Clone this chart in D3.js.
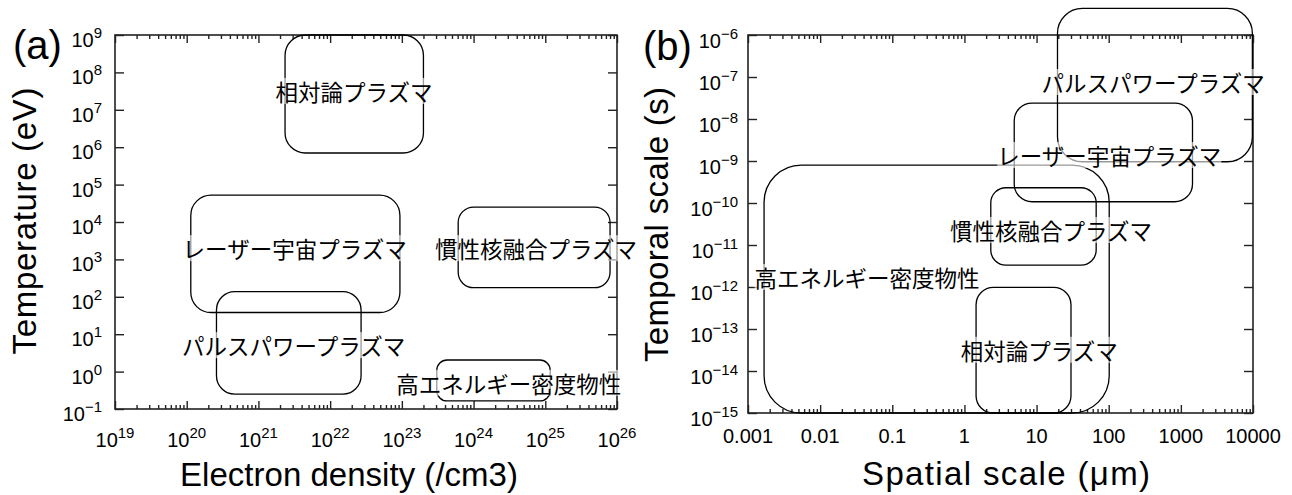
<!DOCTYPE html>
<html>
<head>
<meta charset="utf-8">
<script src="https://cdn.jsdelivr.net/npm/d3@7"></script>
<style>
  body { margin: 0; background: #fff; }
  svg { display: block; }
</style>
</head>
<body>
<svg id="chart" width="1292" height="495"></svg>
<script>
// ---- data (a): electron density vs temperature
const densityExp = [19, 20, 21, 22, 23, 24, 25, 26]
const temperatureExp = [-1, 0, 1, 2, 3, 4, 5, 6, 7, 8, 9]

const namesA = ['相対論プラズマ', 'レーザー宇宙プラズマ', 'パルスパワープラズマ', '慣性核融合プラズマ', '高エネルギー密度物性']
const densityLow = [2.35e21, 1.14e20, 2.6e20, 6.1e23, 3.07e23]
const densityHigh = [2e23, 9.4e22, 2.7e22, 8e25, 1.17e25]
const tempLow = [7e5, 38, 0.25, 175, 0.164]
const tempHigh = [1e9, 5.2e4, 137, 2.5e4, 2.04]
const densityLabelAt = [2.15e22, 3.2e21, 3.1e21, 7.4e24, 3.1e24]
const tempLabelAt = [3.2e7, 2.0e3, 5.1, 2.0e3, 0.5]

// ---- data (b): spatial vs temporal scale
const spatialTicks = [0.001, 0.01, 0.1, 1, 10, 100, 1000, 10000]
const spatialLabels = ['0.001', '0.01', '0.1', '1', '10', '100', '1000', '10000']
const temporalExp = [-15, -14, -13, -12, -11, -10, -9, -8, -7, -6]

const namesB = ['パルスパワープラズマ', 'レーザー宇宙プラズマ', '高エネルギー密度物性', '慣性核融合プラズマ', '相対論プラズマ']
const spatialLow = [19.5, 4.9, 0.00167, 2.32, 1.45]
const spatialHigh = [9800, 1450, 101.6, 67, 30]
const timeLow = [9.6e-10, 1.07e-10, 1e-15, 3.3e-12, 1e-15]
const timeHigh = [4.3e-6, 2.4e-8, 8.0e-10, 2.31e-10, 9.8e-13]
const spatialLabelAt = [414, 102, 0.0447, 15.9, 10.9]
const timeLabelAt = [7.6e-8, 1.39e-9, 1.73e-12, 2.28e-11, 3.2e-14]

const LATIN = "'Liberation Sans', Arial, sans-serif"
const CJK = "'Noto Sans CJK JP', sans-serif"
const INK = '#222'

const svg = d3.select('#chart')

function minorTicks(domain) {
    const out = []
    const lo = Math.round(Math.log10(domain[0]))
    const hi = Math.round(Math.log10(domain[1]))
    for (let e = lo; e < hi; e++) {
        for (let m = 2; m <= 9; m++) out.push(m * Math.pow(10, e))
    }
    return out
}

function powLabel(sel, exp) {
    sel.append('tspan').text('10')
    sel.append('tspan')
        .attr('dy', -9)
        .attr('font-size', 15)
        .text(exp < 0 ? '\u2212' + (-exp) : String(exp))
}

function drawPanel(cfg) {
    const { left, right, top, bottom } = cfg
    const x = d3.scaleLog().domain(cfg.xDomain).range([left, right])
    const y = d3.scaleLog().domain(cfg.yDomain).range([bottom, top])
    const g = svg.append('g')

    // frame
    g.append('rect')
        .attr('x', left).attr('y', top)
        .attr('width', right - left).attr('height', bottom - top)
        .attr('fill', 'none').attr('stroke', INK).attr('stroke-width', 1.6)

    // inward ticks on all four sides, minor ones on x only
    ;[[d3.axisBottom, bottom], [d3.axisTop, top]].forEach(([make, pos]) => {
        g.append('g').attr('transform', `translate(0,${pos})`)
            .call(make(x).tickValues(cfg.xMajor).tickSize(-8).tickSizeOuter(0).tickFormat(''))
        g.append('g').attr('transform', `translate(0,${pos})`)
            .call(make(x).tickValues(minorTicks(x.domain())).tickSize(-4).tickSizeOuter(0).tickFormat(''))
    })
    g.append('g').attr('transform', `translate(${left},0)`)
        .call(d3.axisLeft(y).tickValues(cfg.yMajor).tickSize(-9).tickSizeOuter(0).tickFormat(''))
    g.append('g').attr('transform', `translate(${right},0)`)
        .call(d3.axisRight(y).tickValues(cfg.yMajor).tickSize(-9).tickSizeOuter(0).tickFormat(''))
    g.selectAll('.domain').remove()
    g.selectAll('.tick line').attr('stroke', INK).attr('stroke-width', 1.4)

    // tick labels
    cfg.xMajor.forEach((v, i) => {
        const t = g.append('text')
            .attr('x', x(v)).attr('y', bottom + cfg.xLabelGap)
            .attr('text-anchor', 'middle')
            .attr('font-family', LATIN).attr('font-size', 20).attr('fill', '#000')
        if (cfg.xLabels) t.text(cfg.xLabels[i])
        else powLabel(t, Math.round(Math.log10(v)))
    })
    cfg.yMajor.forEach(v => {
        const t = g.append('text')
            .attr('x', left - cfg.yLabelGap).attr('y', y(v) + cfg.yLabelDrop)
            .attr('text-anchor', 'end')
            .attr('font-family', LATIN).attr('font-size', 20).attr('fill', '#000')
        powLabel(t, Math.round(Math.log10(v)))
    })

    // axis titles (textLength to match the wider original face)
    g.append('text')
        .attr('x', cfg.xTitleX).attr('y', cfg.xTitleY)
        .attr('text-anchor', 'middle')
        .attr('textLength', cfg.xTitleLen)
        .attr('font-family', LATIN).attr('font-size', 33).attr('fill', '#000')
        .text(cfg.xTitle)
    g.append('text')
        .attr('transform', `translate(${cfg.yTitleX},${cfg.yTitleMid}) rotate(-90)`)
        .attr('text-anchor', 'middle')
        .attr('textLength', cfg.yTitleLen)
        .attr('font-family', LATIN).attr('font-size', 33).attr('fill', '#000')
        .text(cfg.yTitle)
    g.append('text')
        .attr('x', cfg.tagX).attr('y', cfg.tagY)
        .attr('font-family', LATIN).attr('font-size', 40).attr('fill', '#000')
        .text(cfg.tag)

    // regions
    cfg.names.forEach((name, i) => {
        const x0 = x(cfg.xLow[i]), x1 = x(cfg.xHigh[i])
        const y0 = y(cfg.yHigh[i]), y1 = y(cfg.yLow[i])
        const w = x1 - x0, h = y1 - y0
        const r = 5 + 0.13 * Math.min(w, h)
        g.append('rect')
            .attr('x', x0).attr('y', y0).attr('width', w).attr('height', h)
            .attr('rx', r).attr('ry', r)
            .attr('fill', 'none').attr('stroke', '#000').attr('stroke-width', 1.3)
    })
    cfg.names.forEach((name, i) => {
        const lab = g.append('g')
        const t = lab.append('text')
            .attr('x', x(cfg.xLab[i])).attr('y', y(cfg.yLab[i]))
            .attr('text-anchor', 'middle').attr('dominant-baseline', 'central')
            .attr('font-family', CJK).attr('font-size', 22.5).attr('fill', '#000')
            .text(name)
        const bb = t.node().getBBox()
        lab.insert('rect', 'text')
            .attr('x', bb.x).attr('y', bb.y + 3).attr('width', bb.width).attr('height', bb.height - 6)
            .attr('fill', '#fff').attr('opacity', 0.6)
    })
}

drawPanel({
    left: 115, right: 617, top: 35, bottom: 409,
    xDomain: [1e19, 1e26], yDomain: [1e-1, 1e9],
    xMajor: densityExp.map(e => Math.pow(10, e)),
    yMajor: temperatureExp.map(e => Math.pow(10, e)),
    xLabelGap: 38, yLabelGap: 13, yLabelDrop: 12,
    xTitle: 'Electron density (/cm3)', xTitleX: 349, xTitleY: 486, xTitleLen: 338,
    yTitle: 'Temperature (eV)', yTitleX: 36, yTitleMid: 221, yTitleLen: 267,
    tag: '(a)', tagX: 13, tagY: 59,
    names: namesA, xLow: densityLow, xHigh: densityHigh, yLow: tempLow, yHigh: tempHigh,
    xLab: densityLabelAt, yLab: tempLabelAt,
})

drawPanel({
    left: 748, right: 1253, top: 35, bottom: 413,
    xDomain: [1e-3, 1e4], yDomain: [1e-15, 1e-6],
    xMajor: spatialTicks, xLabels: spatialLabels,
    yMajor: temporalExp.map(e => Math.pow(10, e)),
    xLabelGap: 30, yLabelGap: 10, yLabelDrop: 13,
    xTitle: 'Spatial scale (\u03bcm)', xTitleX: 1006, xTitleY: 485, xTitleLen: 288,
    yTitle: 'Temporal scale (s)', yTitleX: 668, yTitleMid: 224.5, yTitleLen: 275,
    tag: '(b)', tagX: 643, tagY: 60,
    names: namesB, xLow: spatialLow, xHigh: spatialHigh, yLow: timeLow, yHigh: timeHigh,
    xLab: spatialLabelAt, yLab: timeLabelAt,
})
</script>
</body>
</html>
